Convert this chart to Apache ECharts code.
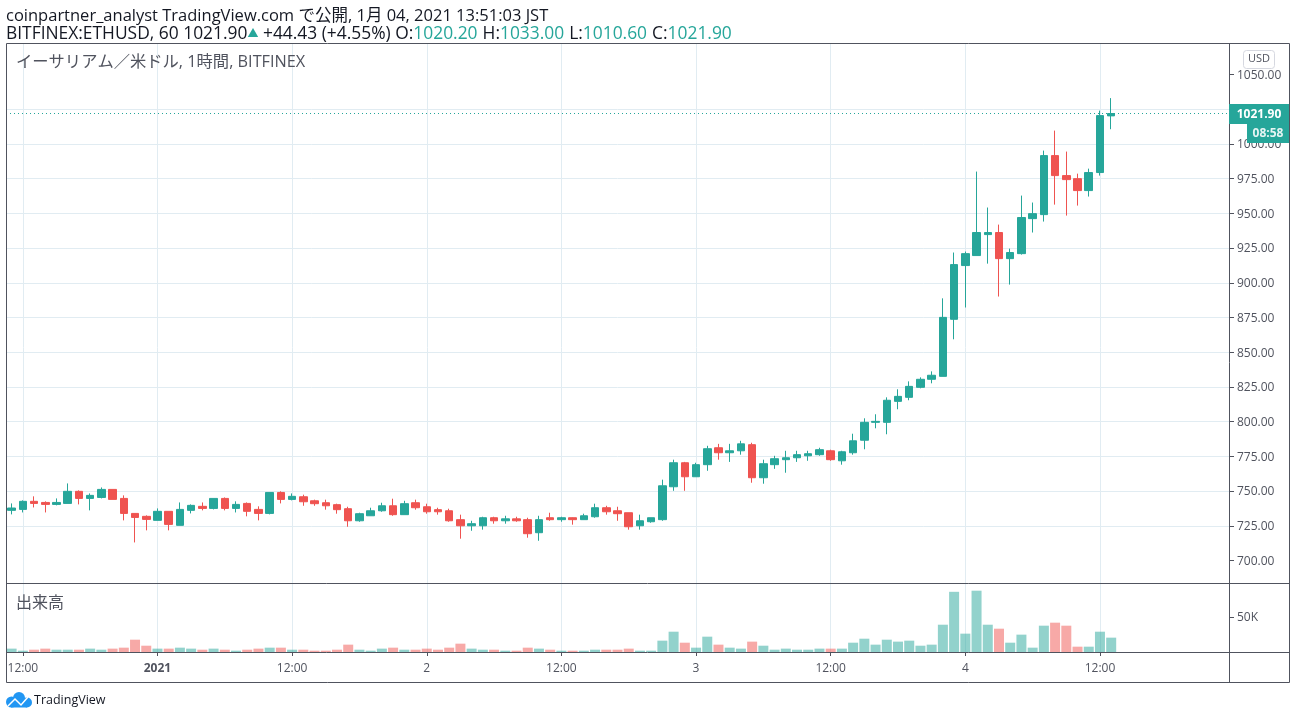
<!DOCTYPE html>
<html><head><meta charset="utf-8">
<style>html,body{margin:0;padding:0;background:#fff}#c{width:1296px;height:718px}</style>
<script src="https://cdn.jsdelivr.net/npm/echarts@6/dist/echarts.min.js"></script>
</head><body><div id="c"></div>
<script>
const opens=[736.1,736.8,742.6,741.8,740.4,741.1,749.8,744.7,745.4,751.2,744.7,733.9,731.8,728.9,735.4,725.3,736.1,739,737.5,744.7,737.5,741.1,736.8,733.9,749,744,745.9,743,741.6,740.2,737.3,728.6,732.2,735.8,739.4,733,741.6,738.7,736.6,735.8,729.4,725,725,730.8,728.6,730,729.4,720,730.8,729.4,730.8,729.4,731.5,738,735.8,734.4,725,727.9,729.4,753.1,770.4,760.3,769,781.2,777.6,779,783.4,759.6,769,772.6,774,775.4,776.2,779,771.8,777.6,786.6,799.5,799.5,814.6,817.5,824.7,830.5,832.6,873.7,912.4,919.6,934.7,936.2,917.4,921,946.2,949.1,991.6,977.2,975,966.4,979.4,1020.2];
const highs=[741.1,743.3,746.2,742.6,744.7,755.5,750.5,748.3,752.6,751.2,746.9,733.9,732.5,737.5,735.4,741.8,740.4,741.8,744.7,745.4,742.6,741.8,739,749,749.8,748.3,747.4,743.8,743.8,740.9,738.7,734.4,738,741.6,744.5,743,743.8,740.9,738,737.3,733,728.6,731.5,731.5,732.2,731.5,730.8,732.2,734.4,731.5,731,733.7,740.9,739.4,738.7,734.4,733,730.8,758.2,772.6,771,770.4,782.6,784,784,786.2,784.8,772.6,775.4,779,779,779,781.2,779.8,779,791.3,802.4,805.3,817.5,823.3,829,831.9,836.2,888.8,921.8,922.5,980.1,954.2,941.9,924.6,962.8,957.8,995.2,1009.6,994.5,978.6,982.2,1024,1033];
const lows=[733.2,734.6,738.2,734.6,739.7,741.1,740.4,736.1,744.7,744,728.9,713,721.7,728.9,721.7,725.3,733.9,736.1,736.8,736.1,734.6,731.8,728.9,733.2,741.1,743.3,739.4,739.4,736.6,733.7,724.3,727.9,732.2,735.1,732.2,733,736.6,733.7,733,727.9,715.7,721.4,722.2,726.5,726.5,727.9,716.4,714.2,728.6,727.9,725.8,729.4,730.8,733,728.6,722.2,722.2,727.2,728.6,750.2,750.2,760.3,764.6,772.6,771,776.2,756,755.3,766,763.2,771,771.8,775.4,771.8,769,776.2,780.1,795.2,790.9,808.9,815.4,824,827.6,832.6,859.3,882.2,919.6,913.8,890.1,898.7,920.3,936.2,944.1,956.3,948.4,955.6,962.1,977.2,1010.6];
const closes=[737.8,742.6,741.1,740.4,741.8,749.8,744.7,746.9,751.2,744,733.9,731,729.6,735.4,726,736.8,739.7,737.5,744.7,737.5,740.4,735.4,733.9,749,744,746.2,742.3,740.9,739.4,736.6,728.6,733.7,735.8,739.4,733,740.9,738,735.1,735.1,728.6,725,726.5,730.8,728.6,730,728.6,719.3,729.4,729.4,730.8,729.4,732.2,738,735.1,733.7,724.3,728.6,730.8,753.8,770.4,760.3,769,780.5,777.6,779,784,759.6,769.7,773.3,774,776.2,776.9,779.8,772.6,778.3,786.2,799.5,800.2,815.4,818.2,825.4,830.5,833.4,875.1,913.1,921,936.2,936.2,917.4,921.8,947,949.8,991.6,977.2,974.3,966.4,979.4,1020.4,1021.9];
const volumes=[4800,1900,3300,4800,3300,3300,3300,4800,3300,4800,6200,17600,9000,4800,4800,6200,4800,3300,4800,3300,1900,3300,4800,6200,6200,3300,3300,1900,1900,3300,10500,3300,1900,4800,6200,3300,3300,4800,3300,6200,11900,4800,3300,3300,1900,1900,6200,4800,3300,1900,1900,1900,3300,3300,3300,4800,1900,1900,16200,29000,13300,6200,21900,10500,6200,4800,14800,9000,3300,4800,3300,3300,4800,4800,4800,13300,19000,10500,17600,14800,16200,9000,10500,39000,86000,26200,87600,39000,33300,13300,24800,6200,37600,41900,37600,7600,7600,29000,20500];
const days=['12/31','1/1','1/2','1/3','1/4','1/5'];
const tickLabels={'12/31 12:00':'12:00','1/1 00:00':'2021','1/1 12:00':'12:00','1/2 00:00':'2','1/2 12:00':'12:00','1/3 00:00':'3','1/3 12:00':'12:00','1/4 00:00':'4','1/4 12:00':'12:00'};
const priceLabels=[700,725,750,775,800,825,850,875,900,925,950,975,1000,1025,1050];
const priceRange={min:675,max:1075,step:25};
const volumeLabels=[50000];
const volumeRange={min:0,max:98600,step:50000};
const lastClose=1021.9;

const up='#26a69a',down='#ef5350',gridC='#e1ecf2',ink='#50535e',frame='#50535e';
const categories=[];
for(let d=0,h=11;categories.length<109;h++){if(h===24){h=0;d++;}categories.push(days[d]+' '+String(h).padStart(2,'0')+':00');}
const isTick=(i,v)=>v in tickLabels;
const font="'Open Sans','Noto Sans CJK JP',sans-serif";
const ohlc=opens.map((o,i)=>[o,closes[i],lows[i],highs[i]]);
const xBase={type:'category',data:categories,boundaryGap:true,axisPointer:{show:false},axisLine:{show:false}};
const valueRich={v:{fontFamily:font,fontSize:12,color:ink,padding:[2,0,0,0]}};
const chart=echarts.init(document.getElementById('c'),null,{renderer:'canvas'});
chart.setOption({
  animation:false,backgroundColor:'#fff',
  grid:[
    {left:6,top:39.8,width:1223,height:555.4,show:false},
    {left:6,top:583,width:1223,height:69,show:false},
    {left:6,top:43,width:1223,height:609,show:false}
  ],
  xAxis:[
    Object.assign({},xBase,{gridIndex:0,splitLine:{show:false},axisTick:{show:false},axisLabel:{show:false}}),
    Object.assign({},xBase,{gridIndex:1,splitLine:{show:false},
      axisTick:{show:true,alignWithLabel:true,interval:isTick,length:4,lineStyle:{color:ink}},
      axisLabel:{show:true,interval:isTick,margin:11,color:ink,fontFamily:font,fontSize:12,
        formatter:v=>{const t=tickLabels[v]||'';return t==='2021'?'{b|2021}':t;},rich:{b:{fontFamily:font,fontSize:12,fontWeight:'bold',color:ink}}}}),
    Object.assign({},xBase,{gridIndex:2,axisTick:{show:false},axisLabel:{show:false},
      splitLine:{show:true,alignWithLabel:true,interval:isTick,lineStyle:{color:gridC,width:1}}})
  ],
  yAxis:[
    {type:'value',gridIndex:0,position:'right',min:priceRange.min,max:priceRange.max,interval:priceRange.step,
      axisLine:{show:false},axisTick:{show:true,customValues:priceLabels,length:5,lineStyle:{color:ink}},
      axisLabel:{show:true,customValues:priceLabels,margin:8,color:ink,fontFamily:font,fontSize:12,rich:valueRich,formatter:v=>'{v|'+v.toFixed(2)+'}'},
      splitLine:{show:true,showMinLine:false,showMaxLine:false,lineStyle:{color:gridC,width:1}}},
    {type:'value',gridIndex:1,position:'right',min:volumeRange.min,max:volumeRange.max,interval:volumeRange.step,
      axisLine:{show:false},axisTick:{show:true,customValues:volumeLabels,length:5,lineStyle:{color:ink}},
      axisLabel:{show:true,customValues:volumeLabels,margin:8,color:ink,fontFamily:font,fontSize:12,rich:valueRich,formatter:v=>'{v|'+(v/1000)+'K}'},
      splitLine:{show:true,showMinLine:false,showMaxLine:false,lineStyle:{color:gridC,width:1}}},
    {type:'value',gridIndex:2,min:0,max:1,show:false}
  ],
  series:[
    {type:'bar',name:'出来高',xAxisIndex:1,yAxisIndex:1,barWidth:10,z:3,
      data:volumes.map((v,i)=>({value:v,itemStyle:{color:closes[i]>=opens[i]?'rgba(38,166,154,0.5)':'rgba(239,83,80,0.5)'}}))},
    {type:'candlestick',name:'ETHUSD',xAxisIndex:0,yAxisIndex:0,barWidth:8,data:ohlc,
      itemStyle:{color:up,color0:down,borderColor:up,borderColor0:down,borderWidth:1},
      markLine:{silent:true,symbol:'none',label:{show:false},animation:false,
        lineStyle:{color:up,type:[1,3],width:1},data:[{yAxis:lastClose}]}}
  ]
});
const lastY=chart.convertToPixel({xAxisIndex:0,yAxisIndex:0},[0,lastClose])[1];
const T=(x,y,text,size,color,extra)=>({type:'text',x,y,z:50,style:Object.assign({text,fontFamily:font,fontSize:size,fill:color,verticalAlign:'middle'},extra||{})});
const L=(x1,y1,x2,y2)=>({type:'line',z:40,shape:{x1,y1,x2,y2},style:{stroke:frame,lineWidth:1}});
const blue='#2196f3';
const rs=(size,color)=>({fontFamily:font,fontSize:size,fontWeight:'normal',color,lineHeight:17});
chart.setOption({
  title:[{left:6,top:8,padding:0,text:'{a|coinpartner_analyst TradingView.com で公開, 1月 04, 2021 13:51:03 JST}\n{d|BITFINEX:ETHUSD, 60 1021.90}{s|▲}{d| +44.43 (+4.55%) O:}{t|1020.20} {d|H:}{t|1033.00} {d|L:}{t|1010.60} {d|C:}{t|1021.90}',
    textStyle:{fontWeight:'normal',rich:{a:rs(16.5,'#131722'),d:rs(17.4,'#131722'),t:rs(17.4,up),s:rs(11,up)}}}],
  graphic:[
    {type:'rect',z:39,shape:{x:6.5,y:43.5,width:1283,height:639},style:{fill:'none',stroke:frame,lineWidth:1}},
    L(1229.5,43,1229.5,682),L(6,583.5,1289,583.5),L(6,652.5,1289,652.5),
    T(16,62,'イーサリアム／米ドル, 1時間, BITFINEX',16.3,ink),
    T(16,603,'出来高',16,ink),
    {type:'rect',z:45,shape:{x:1243.5,y:50.5,width:31,height:18,r:3},style:{fill:'#fff',stroke:'#d6d8e0',lineWidth:1}},
    T(1259,59,'USD',11,ink,{textAlign:'center'}),
    {type:'rect',z:45,shape:{x:1229,y:lastY-9.5,width:60,height:20},style:{fill:up}},
    T(1259,lastY+1,lastClose.toFixed(2),12,'#fff',{textAlign:'center',fontWeight:'bold'}),
    {type:'rect',z:45,shape:{x:1247,y:lastY+10.5,width:42,height:19},style:{fill:up}},
    T(1268,lastY+20.5,'08:58',12,'#e6f5f3',{textAlign:'center',fontWeight:'bold'}),
    {type:'circle',z:50,shape:{cx:19,cy:698,r:6},style:{fill:blue}},
    {type:'circle',z:50,shape:{cx:11.5,cy:702,r:5.5},style:{fill:blue}},
    {type:'circle',z:50,shape:{cx:27,cy:702.5,r:5},style:{fill:blue}},
    {type:'rect',z:50,shape:{x:11,y:701,width:16,height:6.5},style:{fill:blue}},
    {type:'polyline',z:51,shape:{points:[[8,706],[15,699],[21,705],[28,697]]},style:{stroke:'#fff',fill:'none',lineWidth:1.5}},
    T(34,700,'TradingView',12.5,'#131722')
  ]
});
</script></body></html>
